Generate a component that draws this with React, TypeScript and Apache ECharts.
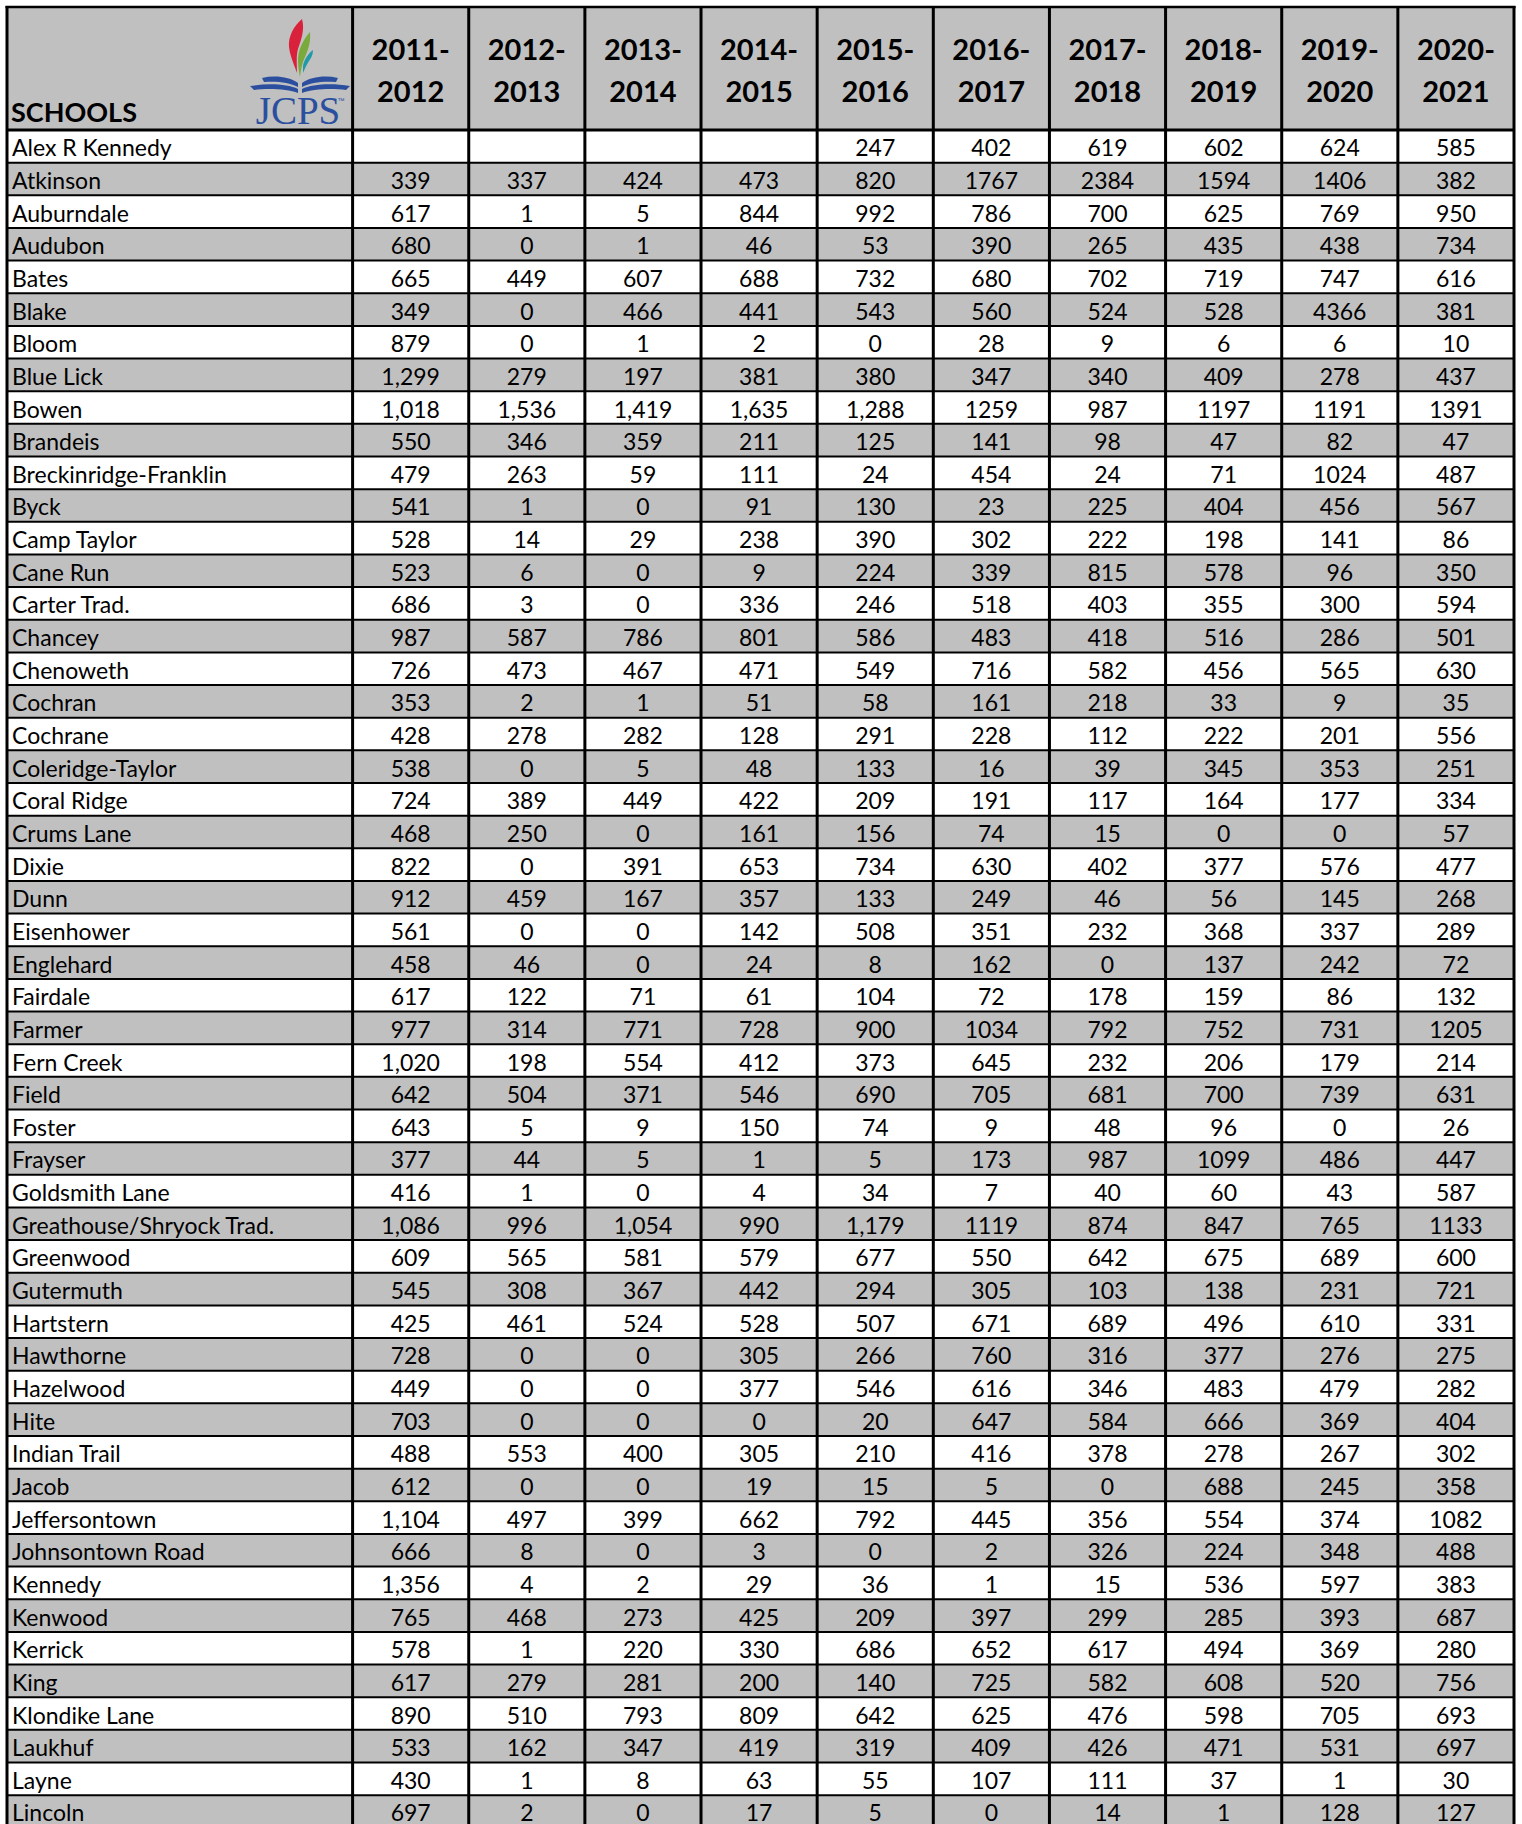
import React, { useEffect, useRef } from "react";
import * as echarts from "echarts";

// ---------- DATA ----------
const yearLabels = [
  "2011-2012", "2012-2013", "2013-2014", "2014-2015", "2015-2016",
  "2016-2017", "2017-2018", "2018-2019", "2019-2020", "2020-2021",
];

const schools = [
  "Alex R Kennedy", "Atkinson", "Auburndale", "Audubon", "Bates", "Blake", "Bloom",
  "Blue Lick", "Bowen", "Brandeis", "Breckinridge-Franklin", "Byck", "Camp Taylor",
  "Cane Run", "Carter Trad.", "Chancey", "Chenoweth", "Cochran", "Cochrane",
  "Coleridge-Taylor", "Coral Ridge", "Crums Lane", "Dixie", "Dunn", "Eisenhower",
  "Englehard", "Fairdale", "Farmer", "Fern Creek", "Field", "Foster", "Frayser",
  "Goldsmith Lane", "Greathouse/Shryock Trad.", "Greenwood", "Gutermuth", "Hartstern",
  "Hawthorne", "Hazelwood", "Hite", "Indian Trail", "Jacob", "Jeffersontown",
  "Johnsontown Road", "Kennedy", "Kenwood", "Kerrick", "King", "Klondike Lane",
  "Laukhuf", "Layne", "Lincoln",
];

const v2011 = [null, 339, 617, 680, 665, 349, 879, 1299, 1018, 550, 479, 541, 528, 523, 686, 987, 726, 353, 428, 538, 724, 468, 822, 912, 561, 458, 617, 977, 1020, 642, 643, 377, 416, 1086, 609, 545, 425, 728, 449, 703, 488, 612, 1104, 666, 1356, 765, 578, 617, 890, 533, 430, 697];
const v2012 = [null, 337, 1, 0, 449, 0, 0, 279, 1536, 346, 263, 1, 14, 6, 3, 587, 473, 2, 278, 0, 389, 250, 0, 459, 0, 46, 122, 314, 198, 504, 5, 44, 1, 996, 565, 308, 461, 0, 0, 0, 553, 0, 497, 8, 4, 468, 1, 279, 510, 162, 1, 2];
const v2013 = [null, 424, 5, 1, 607, 466, 1, 197, 1419, 359, 59, 0, 29, 0, 0, 786, 467, 1, 282, 5, 449, 0, 391, 167, 0, 0, 71, 771, 554, 371, 9, 5, 0, 1054, 581, 367, 524, 0, 0, 0, 400, 0, 399, 0, 2, 273, 220, 281, 793, 347, 8, 0];
const v2014 = [null, 473, 844, 46, 688, 441, 2, 381, 1635, 211, 111, 91, 238, 9, 336, 801, 471, 51, 128, 48, 422, 161, 653, 357, 142, 24, 61, 728, 412, 546, 150, 1, 4, 990, 579, 442, 528, 305, 377, 0, 305, 19, 662, 3, 29, 425, 330, 200, 809, 419, 63, 17];
const v2015 = [247, 820, 992, 53, 732, 543, 0, 380, 1288, 125, 24, 130, 390, 224, 246, 586, 549, 58, 291, 133, 209, 156, 734, 133, 508, 8, 104, 900, 373, 690, 74, 5, 34, 1179, 677, 294, 507, 266, 546, 20, 210, 15, 792, 0, 36, 209, 686, 140, 642, 319, 55, 5];
const v2016 = [402, 1767, 786, 390, 680, 560, 28, 347, 1259, 141, 454, 23, 302, 339, 518, 483, 716, 161, 228, 16, 191, 74, 630, 249, 351, 162, 72, 1034, 645, 705, 9, 173, 7, 1119, 550, 305, 671, 760, 616, 647, 416, 5, 445, 2, 1, 397, 652, 725, 625, 409, 107, 0];
const v2017 = [619, 2384, 700, 265, 702, 524, 9, 340, 987, 98, 24, 225, 222, 815, 403, 418, 582, 218, 112, 39, 117, 15, 402, 46, 232, 0, 178, 792, 232, 681, 48, 987, 40, 874, 642, 103, 689, 316, 346, 584, 378, 0, 356, 326, 15, 299, 617, 582, 476, 426, 111, 14];
const v2018 = [602, 1594, 625, 435, 719, 528, 6, 409, 1197, 47, 71, 404, 198, 578, 355, 516, 456, 33, 222, 345, 164, 0, 377, 56, 368, 137, 159, 752, 206, 700, 96, 1099, 60, 847, 675, 138, 496, 377, 483, 666, 278, 688, 554, 224, 536, 285, 494, 608, 598, 471, 37, 1];
const v2019 = [624, 1406, 769, 438, 747, 4366, 6, 278, 1191, 82, 1024, 456, 141, 96, 300, 286, 565, 9, 201, 353, 177, 0, 576, 145, 337, 242, 86, 731, 179, 739, 0, 486, 43, 765, 689, 231, 610, 276, 479, 369, 267, 245, 374, 348, 597, 393, 369, 520, 705, 531, 1, 128];
const v2020 = [585, 382, 950, 734, 616, 381, 10, 437, 1391, 47, 487, 567, 86, 350, 594, 501, 630, 35, 556, 251, 334, 57, 477, 268, 289, 72, 132, 1205, 214, 631, 26, 447, 587, 1133, 600, 721, 331, 275, 282, 404, 302, 358, 1082, 488, 383, 687, 280, 756, 693, 697, 30, 127];

const yearValues = [v2011, v2012, v2013, v2014, v2015, v2016, v2017, v2018, v2019, v2020];

// ---------- LAYOUT ----------
const W = 1522;
const H = 1824;
const TABLE_LEFT = 7;
const TABLE_RIGHT = 1514;
const TABLE_TOP = 7;
const HEADER_BOTTOM = 130;
const ROW_H = 32.65;
const COL_W = 116.14;
const NAME_UNITS = (352.6 - TABLE_LEFT) / COL_W;
const X_MAX = NAME_UNITS + yearValues.length;
const HEADER_UNITS = (HEADER_BOTTOM - TABLE_TOP) / ROW_H;
const Y_MIN = -HEADER_UNITS;
const Y_MAX = (H - TABLE_TOP) / ROW_H - HEADER_UNITS;

const GRAY = "#c0c0c0";
const BODY_FONT = "23px Lato";
const HEAD_FONT = "bold 29px Lato";

const fmt = (v: number | null, c: number) => {
  if (v == null) return "";
  return c < 5 ? v.toLocaleString("en-US") : String(v);
};

// ---------- LOGO SHAPES ----------
echarts.graphic.registerShape(
  "leafRed",
  echarts.graphic.extendPath(
    "M302,19 C294,26 288,36 289,47 C290,56 294,64 297,73 C297,64 296,56 298,49 C301,40 305,30 302,19 Z",
    {}
  )
);
echarts.graphic.registerShape(
  "leafGreen",
  echarts.graphic.extendPath(
    "M310,32 C303,40 298,50 298,60 C298,67 299,72 300,77 C301,69 302,63 305,57 C308,50 311,42 310,32 Z",
    {}
  )
);
echarts.graphic.registerShape(
  "leafTeal",
  echarts.graphic.extendPath(
    "M313,50 C308,54 304,60 303,66 C303,69 303,71 303,73 C305,68 307,64 309,61 C311,58 313,55 313,50 Z",
    {}
  )
);
echarts.graphic.registerShape(
  "book",
  echarts.graphic.extendPath(
    "M262,78 C275,75 290,77 298,83 L298,87 C289,82 276,81 264,82 Z " +
      "M250,86 C268,83 288,84 298,89 L298,93 C288,89 268,88 254,90 Z " +
      "M338,78 C325,75 310,77 302,83 L302,87 C311,82 324,81 336,82 Z " +
      "M350,86 C332,83 312,84 302,89 L302,93 C312,89 332,88 346,90 Z",
    {}
  )
);

// ---------- CELLS ----------
type Cell = { c: number; r: number; label: string };
const cells: Cell[] = [];
schools.forEach((name, r) => {
  cells.push({ c: -1, r, label: name });
  yearValues.forEach((arr, c) => {
    cells.push({ c, r, label: fmt(arr[r], c) });
  });
});

const headerCells = [{ c: -1, label: "SCHOOLS" }].concat(
  yearLabels.map((y, c) => {
    const [a, b] = y.split("-");
    return { c, label: `${a}-\n${b}` };
  })
);

const colX0 = (c: number) => (c < 0 ? 0 : NAME_UNITS + c);
const colX1 = (c: number) => (c < 0 ? NAME_UNITS : NAME_UNITS + c + 1);

const hLines: number[] = [];
for (let r = 0; r <= schools.length; r++) hLines.push(r);
const vLines: number[] = [0, NAME_UNITS];
for (let c = 1; c <= yearValues.length; c++) vLines.push(NAME_UNITS + c);

export default function App() {
  const ref = useRef<HTMLDivElement>(null);

  useEffect(() => {
    if (!ref.current) return;
    const chart = echarts.init(ref.current, undefined, { renderer: "svg" });

    const option: any = {
      animation: false,
      backgroundColor: "#ffffff",
      grid: { left: TABLE_LEFT, top: TABLE_TOP, width: TABLE_RIGHT - TABLE_LEFT, height: H - TABLE_TOP },
      xAxis: { type: "value", min: 0, max: X_MAX, show: false },
      yAxis: { type: "value", min: Y_MIN, max: Y_MAX, inverse: true, show: false },
      series: [
        {
          type: "custom",
          name: "header",
          clip: true,
          data: headerCells.map((h) => [h.c, Y_MIN]),
          renderItem: (params: any, api: any) => {
            const h = headerCells[params.dataIndex];
            const p0 = api.coord([colX0(h.c), Y_MIN]);
            const p1 = api.coord([colX1(h.c), 0]);
            const children: any[] = [
              {
                type: "rect",
                shape: { x: p0[0], y: p0[1], width: p1[0] - p0[0], height: p1[1] - p0[1] },
                style: { fill: GRAY },
              },
            ];
            if (h.c < 0) {
              children.push({
                type: "text",
                style: {
                  text: h.label,
                  x: p0[0] + 4,
                  y: p1[1] - 19,
                  font: "bold 27px Lato",
                  fill: "#000",
                  align: "left",
                  verticalAlign: "middle",
                },
              });
            } else {
              children.push({
                type: "text",
                style: {
                  text: h.label,
                  x: (p0[0] + p1[0]) / 2,
                  y: (p0[1] + p1[1]) / 2 + 1,
                  font: HEAD_FONT,
                  lineHeight: 42,
                  fill: "#000",
                  align: "center",
                  verticalAlign: "middle",
                },
              });
            }
            return { type: "group", children };
          },
          z: 1,
        },
        {
          type: "custom",
          name: "cells",
          clip: true,
          data: cells.map((cl) => [cl.c, cl.r]),
          renderItem: (params: any, api: any) => {
            const cl = cells[params.dataIndex];
            const p0 = api.coord([colX0(cl.c), cl.r]);
            const p1 = api.coord([colX1(cl.c), cl.r + 1]);
            const cy = (p0[1] + p1[1]) / 2 + 1;
            return {
              type: "group",
              children: [
                {
                  type: "rect",
                  shape: { x: p0[0], y: p0[1], width: p1[0] - p0[0], height: p1[1] - p0[1] },
                  style: { fill: cl.r % 2 === 1 ? GRAY : "#ffffff" },
                },
                {
                  type: "text",
                  style: {
                    text: cl.label,
                    x: cl.c < 0 ? p0[0] + 5 : (p0[0] + p1[0]) / 2,
                    y: cy,
                    font: BODY_FONT,
                    fill: "#000",
                    align: cl.c < 0 ? "left" : "center",
                    verticalAlign: "middle",
                  },
                },
              ],
            };
          },
          z: 2,
        },
        {
          type: "custom",
          name: "hlines",
          clip: false,
          data: hLines.map((r) => [0, r]),
          renderItem: (params: any, api: any) => {
            const r = hLines[params.dataIndex];
            const a = api.coord([0, r]);
            const b = api.coord([X_MAX, r]);
            return {
              type: "line",
              shape: { x1: a[0], y1: a[1], x2: b[0], y2: b[1] },
              style: { stroke: "#000", lineWidth: r === 0 ? 3 : 2 },
            };
          },
          z: 3,
        },
        {
          type: "custom",
          name: "toprule",
          clip: false,
          data: [[0, Y_MIN]],
          renderItem: (params: any, api: any) => {
            const a = api.coord([0, Y_MIN]);
            const b = api.coord([X_MAX, Y_MIN]);
            return {
              type: "line",
              shape: { x1: a[0] - 1.5, y1: a[1], x2: b[0] + 1.5, y2: b[1] },
              style: { stroke: "#000", lineWidth: 2.5 },
            };
          },
          z: 3,
        },
        {
          type: "custom",
          name: "vlines",
          clip: false,
          data: vLines.map((x) => [x, 0]),
          renderItem: (params: any, api: any) => {
            const x = vLines[params.dataIndex];
            const a = api.coord([x, Y_MIN]);
            const b = api.coord([x, Y_MAX]);
            return {
              type: "line",
              shape: { x1: a[0], y1: a[1] - 1, x2: b[0], y2: b[1] },
              style: { stroke: "#000", lineWidth: 3 },
            };
          },
          z: 3,
        },
      ],
      graphic: [
        { type: "leafRed", x: 0, y: 0, style: { fill: "#d9213b" }, z: 10 },
        { type: "leafGreen", x: 0, y: 0, style: { fill: "#7aaa3c" }, z: 10 },
        { type: "leafTeal", x: 0, y: 0, style: { fill: "#1f9aa6" }, z: 10 },
        { type: "book", x: 0, y: 0, style: { fill: "#2b4f9e" }, z: 10 },
        {
          type: "text",
          x: 298,
          y: 110,
          z: 10,
          style: {
            text: "JCPS",
            font: "39px 'Liberation Serif'",
            fill: "#2b4f9e",
            align: "center",
            verticalAlign: "middle",
          },
        },
        {
          type: "text",
          x: 341,
          y: 100,
          z: 10,
          style: { text: "™", font: "7px 'Liberation Sans'", fill: "#2b4f9e", align: "center", verticalAlign: "middle" },
        },
      ],
    };

    chart.setOption(option);
    return () => chart.dispose();
  }, []);

  return (
    <div
      ref={ref}
      style={{ position: "fixed", left: 0, top: 0, width: W, height: H, background: "#fff" }}
    />
  );
}
